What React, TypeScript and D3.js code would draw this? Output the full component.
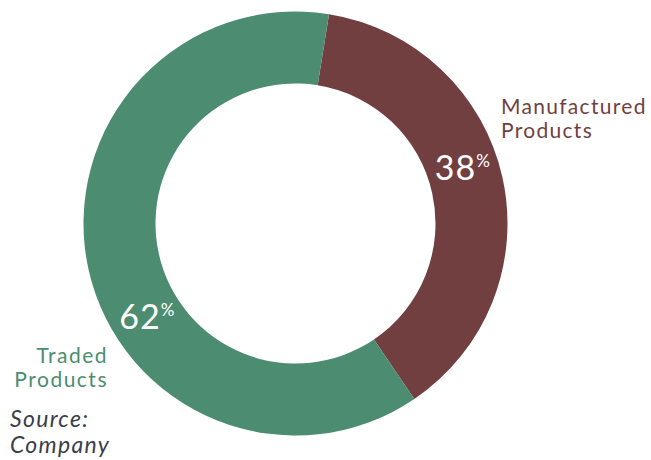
import React from "react";
import * as d3 from "d3";

const categories = ["Manufactured Products", "Traded Products"];
const values = [38, 62];
const labelLines = [["Manufactured", "Products"], ["Traded", "Products"]];
const sourceLines = ["Source:", "Company"];
const colors = ["#723f41", "#4c8d71"];

const W = 651;
const H = 460;
const cx = 295.5;
const cy = 223.5;
const outerR = 212;
const innerR = 140;
const startDeg = 9.1;
const labelFrac = [0.46, 0.41];

export default function App() {
  const pie = d3
    .pie<number>()
    .sort(null)
    .value((d) => d)
    .startAngle((startDeg * Math.PI) / 180)
    .endAngle((startDeg * Math.PI) / 180 + 2 * Math.PI);
  const arcs = pie(values);
  const arc = d3.arc<d3.PieArcDatum<number>>().innerRadius(innerR).outerRadius(outerR);
  const midR = (innerR + outerR) / 2;
  const font = "Lato, 'Open Sans', sans-serif";

  return (
    <svg
      width={W}
      height={H}
      style={{ position: "absolute", left: 0, top: 0, display: "block" }}
    >
      <g transform={`translate(${cx},${cy})`}>
        {arcs.map((a, i) => (
          <path key={categories[i]} d={arc(a) || ""} fill={colors[i]} />
        ))}
        {arcs.map((a, i) => {
          const ang = a.startAngle + (a.endAngle - a.startAngle) * labelFrac[i];
          const x = Math.sin(ang) * midR;
          const y = -Math.cos(ang) * midR;
          return (
            <text
              key={"p" + i}
              x={x}
              y={y + 11}
              textAnchor="middle"
              fill="#ffffff"
              fontFamily={font}
              fontSize={34}
              letterSpacing={1}
            >
              {values[i]}
              <tspan fontSize={17} dy={-13}>%</tspan>
            </text>
          );
        })}
      </g>
      {labelLines[0].map((t, j) => (
        <text key={"m" + j} x={501} y={114 + j * 24} fontFamily={font} fontSize={21} fill={colors[0]} letterSpacing={1.3}>
          {t}
        </text>
      ))}
      {labelLines[1].map((t, j) => (
        <text key={"t" + j} x={108} y={363 + j * 24} fontFamily={font} fontSize={21} fill={colors[1]} textAnchor="end" letterSpacing={1.5}>
          {t}
        </text>
      ))}
      {sourceLines.map((t, j) => (
        <text key={"s" + j} x={10} y={427 + j * 26} fontFamily={font} fontSize={23} fill="#3a3e48" fontStyle="italic" letterSpacing={1.3}>
          {t}
        </text>
      ))}
    </svg>
  );
}
